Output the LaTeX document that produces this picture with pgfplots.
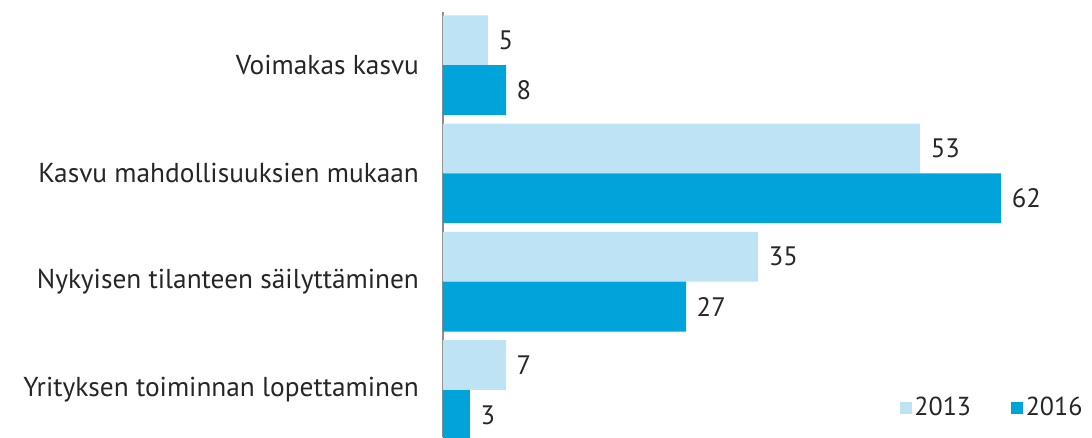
\documentclass[border=0pt]{standalone}
\usepackage{fontspec}
\setmainfont{PT Sans}
\usepackage{pgfplots}
\pgfplotsset{compat=1.18}
\definecolor{light}{RGB}{190,227,245}
\definecolor{dark}{RGB}{0,163,218}
\definecolor{txt}{RGB}{38,38,38}
\begin{document}
\fontsize{20.5pt}{23pt}\selectfont
\begin{tikzpicture}
\useasboundingbox (-332.25pt,0) rectangle (486.75pt,327.75pt);
\begin{axis}[
  at={(0,0)}, anchor=south west,
  scale only axis, width=486.75pt, height=318.75pt,
  xbar, bar width=0.46,
  xmin=0, xmax=72.1, ymin=-0.49, ymax=3.434, y dir=reverse,
  axis x line=none, axis y line*=left,
  y axis line style={black!45, line width=1.3pt, -},
  ytick={0,1,2,3}, major tick length=0pt,
  yticklabels={Voimakas kasvu\hspace{27pt},Kasvu mahdollisuuksien mukaan\hspace{8pt},Nykyisen tilanteen säilyttäminen,Yrityksen toiminnan lopettaminen},
  yticklabel style={font=\fontsize{20.5pt}{23pt}\selectfont, text=txt, xshift=-11pt},
  /pgf/number format/assume math mode=true,
  point meta=explicit,
  nodes near coords,
  every node near coord/.append style={font=\fontsize{20pt}{22pt}\selectfont, text=txt, anchor=west, xshift=1pt},
  legend columns=2,
  legend style={draw=none, fill=none, at={(rel axis cs:0.996,0.068)}, anchor=east,
    font=\fontsize{19.5pt}{21pt}\selectfont, text=txt,
    /tikz/every even column/.append style={column sep=28pt}},
  legend image code/.code={\fill[#1] (0pt,-4.5pt) rectangle (9pt,4.5pt);},
]
% bar lengths as drawn in the source; labels as printed
\addplot[draw=none, fill=light, bar shift=-0.23] coordinates {(5,0) [5] (53,1) [53] (35,2) [35] (7,3) [7]};
\addlegendentry{2013}
\addplot[draw=none, fill=dark, bar shift=0.23] coordinates {(7,0) [8] (62,1) [62] (27,2) [27] (3,3) [3]};
\addlegendentry{2016}
\end{axis}
\end{tikzpicture}
\end{document}
